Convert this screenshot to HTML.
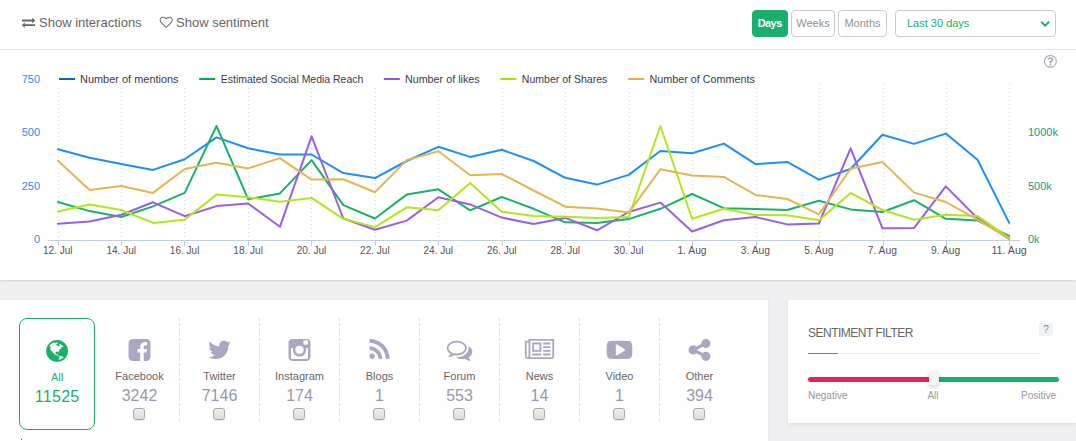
<!DOCTYPE html>
<html lang="en"><head><meta charset="utf-8"><title>Dashboard</title>
<style>
html,body{margin:0;padding:0}
body{width:1076px;height:441px;overflow:hidden;background:#f0f0f3;font-family:"Liberation Sans",Arial,sans-serif;position:relative;color:#666}
.top{position:absolute;left:0;top:0;width:1076px;height:280px;background:#fefefe;box-shadow:0 1px 2px rgba(0,0,0,.12)}
.bar{position:absolute;left:0;top:0;width:1076px;height:49px;border-bottom:1px solid #e6e6e6}
.tbi{position:absolute;left:0;top:0}
.tl{position:absolute;top:15px;font-size:13px;line-height:16px;color:#666;white-space:nowrap}
.btn{position:absolute;top:10px;height:27px;box-sizing:border-box;border:1px solid #ccc;border-radius:4px;background:#fff;color:#929292;font-size:11px;line-height:25px;text-align:center}
.btn.on{background:#1aaf6b;border-color:#1aaf6b;color:#fff;font-weight:bold;letter-spacing:-.6px;text-indent:-.6px}
.sel{position:absolute;left:895px;top:10px;width:161px;height:27px;box-sizing:border-box;border:1px solid #ccc;border-radius:4px;background:#fff;color:#1aaf6b;font-size:11px;line-height:25px;padding-left:11px}
.chart{position:absolute;left:0;top:50px}
.chart text{font-family:"Liberation Sans",Arial,sans-serif;font-size:11px}
.xl text{fill:#555;font-size:11.5px}
.yl text{fill:#2b8fe6}
.yr text{fill:#16a085}
.lg text{fill:#3c3c48}
.help{position:absolute;left:1044px;top:55px}
.left{position:absolute;left:0;top:300px;width:768px;height:141px;background:#fefefe;box-shadow:0 0 3px rgba(0,0,0,.07)}
.icons{position:absolute;left:0;top:0}
.all{position:absolute;left:19px;top:18px;width:76px;height:112px;box-sizing:border-box;border:1px solid #1aaf6b;border-radius:8px;text-align:center;color:#1aaf6b}
.src{position:absolute;top:18px;width:80px;text-align:center}
.lab{position:absolute;left:0;width:100%;top:50px;font-size:11px;line-height:16px;color:#666}
.cnt{position:absolute;left:0;width:100%;top:67px;font-size:16px;line-height:22px;color:#9a98a8}
.all .lab{top:50px;color:#1aaf6b}
.all .cnt{top:67px;color:#1aaf6b;letter-spacing:.3px;text-indent:.3px}
.cb{position:absolute;left:33.5px;top:90px;width:12px;height:12px;box-sizing:border-box;border:1px solid #a6a6a6;border-radius:3px;background:linear-gradient(#ededed,#dedede);box-shadow:0 1px 1px rgba(0,0,0,.08)}
.dot{position:absolute;left:21px;top:139px;width:1px;height:1px;background:#557}
.sep{position:absolute;top:18px;height:103px;width:0;border-left:1px dashed #dcdcdc}
.sent{position:absolute;left:788px;top:300px;width:288px;height:123px;background:#fefefe;box-shadow:0 1px 3px rgba(0,0,0,.09)}
.sent h3{position:absolute;left:20px;top:24px;margin:0;font-size:12px;letter-spacing:-.5px;line-height:18px;font-weight:normal;color:#666;white-space:nowrap}
.q{position:absolute;left:251px;top:23px;width:14px;height:13px;background:#f2f2f5;border-radius:2px;font-size:10px;line-height:14px;text-align:center;color:#8c8c8c}
.ul{position:absolute;left:20px;top:53px;width:231px;height:1px;background:#ececec}
.ul i{position:absolute;left:0;top:0;width:30px;height:1px;background:#1aaf6b;display:block}
.neg{position:absolute;left:20px;top:77px;width:125px;height:5px;border-radius:3px;background:#e02852}
.pos{position:absolute;left:148px;top:77px;width:123px;height:5px;border-radius:3px;background:#1aaf6b}
.hd{position:absolute;left:141px;top:72px;width:10px;height:14px;border-radius:5px;background:#f5f5f5;box-shadow:0 1px 4px rgba(0,0,0,.25)}
.sl{position:absolute;top:90px;font-size:10px;line-height:12px;color:#999}
</style></head><body>
<div class="top">
<div class="bar">
<svg class="tbi" width="300" height="49" viewBox="0 0 300 49"><g transform="translate(22.00 27.00) scale(0.00725 -0.00725)" fill="#666" fill-rule="evenodd"><path d="M1792 352v-192q0 -13 -9.5 -22.5t-22.5 -9.5h-1376v-192q0 -13 -9.5 -22.5t-22.5 -9.5q-12 0 -24 10l-319 320q-9 9 -9 22q0 14 9 23l320 320q9 9 23 9q13 0 22.5 -9.5t9.5 -22.5v-192h1376q13 0 22.5 -9.5t9.5 -22.5zM1792 896q0 -14 -9 -23l-320 -320q-9 -9 -23 -9 q-13 0 -22.5 9.5t-9.5 22.5v192h-1376q-13 0 -22.5 9.5t-9.5 22.5v192q0 13 9.5 22.5t22.5 9.5h1376v192q0 14 9 23t23 9q12 0 24 -10l319 -319q9 -9 9 -23z"/></g><g transform="translate(159.70 27.00) scale(0.00725 -0.00725)" fill="#666" fill-rule="evenodd"><path d="M1664 940q0 81 -21.5 143t-55 98.5t-81.5 59.5t-94 31t-98 8t-112 -25.5t-110.5 -64t-86.5 -72t-60 -61.5q-18 -22 -49 -22t-49 22q-24 28 -60 61.5t-86.5 72t-110.5 64t-112 25.5t-98 -8t-94 -31t-81.5 -59.5t-55 -98.5t-21.5 -143q0 -168 187 -355l581 -560l580 559 q188 188 188 356zM1792 940q0 -221 -229 -450l-623 -600q-18 -18 -44 -18t-44 18l-624 602q-10 8 -27.5 26t-55.5 65.5t-68 97.5t-53.5 121t-23.5 138q0 220 127 344t351 124q62 0 126.5 -21.5t120 -58t95.5 -68.5t76 -68q36 36 76 68t95.5 68.5t120 58t126.5 21.5 q224 0 351 -124t127 -344z"/></g></svg>
<div class="tl" style="left:39px">Show interactions</div>
<div class="tl" style="left:176px">Show sentiment</div>
<div class="btn on" style="left:752px;width:36px">Days</div>
<div class="btn" style="left:791px;width:44px">Weeks</div>
<div class="btn" style="left:838px;width:49px">Months</div>
<div class="sel">Last 30 days</div>
</div>
<svg class="chart" width="1076" height="230" viewBox="0 0 1076 230">
<g stroke="#d8d8d8" stroke-width="1" stroke-dasharray="1,3" fill="none"><path d="M58.5 38 V190"/><path d="M121.5 38 V190"/><path d="M184.5 38 V190"/><path d="M248.5 38 V190"/><path d="M311.5 38 V190"/><path d="M375.5 38 V190"/><path d="M438.5 38 V190"/><path d="M502.5 38 V190"/><path d="M565.5 38 V190"/><path d="M629.5 38 V190"/><path d="M692.5 38 V190"/><path d="M756.5 38 V190"/><path d="M819.5 34 V190"/><path d="M883.5 34 V190"/><path d="M946.5 34 V190"/><path d="M1009.5 34 V190"/></g>
<path d="M48 190.5 H1020" stroke="#c0d0e0" stroke-width="1" fill="none"/>
<path d="M58.5 191 v5M121.5 191 v5M184.5 191 v5M248.5 191 v5M311.5 191 v5M375.5 191 v5M438.5 191 v5M502.5 191 v5M565.5 191 v5M629.5 191 v5M692.5 191 v5M756.5 191 v5M819.5 191 v5M883.5 191 v5M946.5 191 v5M1009.5 191 v5" stroke="#c0d0e0" stroke-width="1" fill="none"/>
<path d="M57.9 99.2 L89.6 107.8 L121.3 114.0 L153.0 119.9 L184.7 109.2 L216.5 87.4 L248.2 98.3 L279.9 104.5 L311.6 104.5 L343.3 123.1 L375.0 128.1 L406.7 111.0 L438.4 96.8 L470.1 106.9 L501.8 99.8 L533.6 111.0 L565.3 127.8 L597.0 134.6 L628.7 124.9 L660.4 101.0 L692.1 103.3 L723.8 93.6 L755.5 114.2 L787.2 111.9 L818.9 129.6 L850.6 119.0 L882.4 84.8 L914.1 93.9 L945.8 83.6 L977.5 109.8 L1009.2 172.9" fill="none" stroke="#1e90f2" stroke-width="2" stroke-linejoin="round" stroke-linecap="round"/>
<path d="M57.9 152.0 L89.6 161.1 L121.3 167.0 L153.0 156.4 L184.7 142.9 L216.5 76.0 L248.2 149.3 L279.9 143.4 L311.6 110.1 L343.3 155.2 L375.0 168.5 L406.7 144.6 L438.4 139.3 L470.1 160.3 L501.8 147.0 L533.6 158.8 L565.3 172.3 L597.0 172.9 L628.7 169.1 L660.4 158.8 L692.1 144.0 L723.8 158.2 L755.5 159.1 L787.2 160.0 L818.9 150.8 L850.6 159.4 L882.4 162.0 L914.1 150.2 L945.8 168.8 L977.5 170.6 L1009.2 185.9" fill="none" stroke="#1ab26b" stroke-width="2" stroke-linejoin="round" stroke-linecap="round"/>
<path d="M57.9 173.8 L89.6 171.5 L121.3 164.7 L153.0 152.3 L184.7 166.2 L216.5 156.1 L248.2 153.5 L279.9 176.8 L311.6 86.3 L343.3 168.5 L375.0 179.7 L406.7 170.6 L438.4 147.3 L470.1 154.4 L501.8 167.6 L533.6 174.1 L565.3 167.9 L597.0 180.3 L628.7 162.0 L660.4 152.6 L692.1 181.5 L723.8 170.3 L755.5 167.0 L787.2 174.4 L818.9 173.5 L850.6 98.3 L882.4 178.2 L914.1 177.9 L945.8 136.4 L977.5 168.2 L1009.2 188.9" fill="none" stroke="#9b5fe3" stroke-width="2" stroke-linejoin="round" stroke-linecap="round"/>
<path d="M57.9 161.4 L89.6 154.4 L121.3 160.0 L153.0 172.9 L184.7 169.7 L216.5 144.6 L248.2 147.3 L279.9 151.7 L311.6 147.9 L343.3 168.8 L375.0 177.1 L406.7 157.3 L438.4 160.3 L470.1 133.1 L501.8 161.7 L533.6 166.1 L565.3 166.7 L597.0 167.9 L628.7 167.0 L660.4 76.0 L692.1 168.8 L723.8 158.8 L755.5 165.0 L787.2 165.3 L818.9 170.3 L850.6 142.9 L882.4 160.0 L914.1 169.7 L945.8 164.7 L977.5 165.9 L1009.2 188.0" fill="none" stroke="#b3e61c" stroke-width="2" stroke-linejoin="round" stroke-linecap="round"/>
<path d="M57.9 110.7 L89.6 139.9 L121.3 136.1 L153.0 142.9 L184.7 119.0 L216.5 112.8 L248.2 118.4 L279.9 108.1 L311.6 129.6 L343.3 129.3 L375.0 142.3 L406.7 110.1 L438.4 101.3 L470.1 125.2 L501.8 124.0 L533.6 140.5 L565.3 156.7 L597.0 158.5 L628.7 162.6 L660.4 119.3 L692.1 125.5 L723.8 126.9 L755.5 144.9 L787.2 149.0 L818.9 164.4 L850.6 118.7 L882.4 111.9 L914.1 142.6 L945.8 152.0 L977.5 169.7 L1009.2 188.9" fill="none" stroke="#e0b753" stroke-width="2" stroke-linejoin="round" stroke-linecap="round"/>
<g class="xl" text-anchor="middle"><text x="57.8" y="204.2" textLength="29.6" lengthAdjust="spacingAndGlyphs">12. Jul</text><text x="121.2" y="204.2" textLength="29.6" lengthAdjust="spacingAndGlyphs">14. Jul</text><text x="184.6" y="204.2" textLength="29.6" lengthAdjust="spacingAndGlyphs">16. Jul</text><text x="248.1" y="204.2" textLength="29.6" lengthAdjust="spacingAndGlyphs">18. Jul</text><text x="311.5" y="204.2" textLength="29.6" lengthAdjust="spacingAndGlyphs">20. Jul</text><text x="374.9" y="204.2" textLength="29.6" lengthAdjust="spacingAndGlyphs">22. Jul</text><text x="438.3" y="204.2" textLength="29.6" lengthAdjust="spacingAndGlyphs">24. Jul</text><text x="501.7" y="204.2" textLength="29.6" lengthAdjust="spacingAndGlyphs">26. Jul</text><text x="565.2" y="204.2" textLength="29.6" lengthAdjust="spacingAndGlyphs">28. Jul</text><text x="628.6" y="204.2" textLength="29.6" lengthAdjust="spacingAndGlyphs">30. Jul</text><text x="692.0" y="204.2" textLength="29.2" lengthAdjust="spacingAndGlyphs">1. Aug</text><text x="755.4" y="204.2" textLength="29.2" lengthAdjust="spacingAndGlyphs">3. Aug</text><text x="818.8" y="204.2" textLength="29.2" lengthAdjust="spacingAndGlyphs">5. Aug</text><text x="882.3" y="204.2" textLength="29.2" lengthAdjust="spacingAndGlyphs">7. Aug</text><text x="945.7" y="204.2" textLength="29.2" lengthAdjust="spacingAndGlyphs">9. Aug</text><text x="1009.1" y="204.2" textLength="35.4" lengthAdjust="spacingAndGlyphs">11. Aug</text></g>
<g class="yl" text-anchor="end"><text x="40" y="32.8">750</text><text x="40" y="86.1">500</text><text x="40" y="139.5">250</text><text x="40" y="192.8">0</text></g>
<g class="yr"><text x="1028" y="86.2">1000k</text><text x="1028" y="140.0">500k</text><text x="1028" y="193.2">0k</text></g>
<g class="lg"><path d="M59.0 29 h16" stroke="#0569c9" stroke-width="2" fill="none"/><text x="80.0" y="32.8" textLength="98.6" lengthAdjust="spacingAndGlyphs">Number of mentions</text><path d="M199.2 29 h16" stroke="#00aa5a" stroke-width="2" fill="none"/><text x="220.8" y="32.8" textLength="142.5" lengthAdjust="spacingAndGlyphs">Estimated Social Media Reach</text><path d="M383.8 29 h16" stroke="#8c55dc" stroke-width="2" fill="none"/><text x="404.9" y="32.8" textLength="74.8" lengthAdjust="spacingAndGlyphs">Number of likes</text><path d="M500.3 29 h16" stroke="#a8e000" stroke-width="2" fill="none"/><text x="521.8" y="32.8" textLength="85.5" lengthAdjust="spacingAndGlyphs">Number of Shares</text><path d="M628.2 29 h16" stroke="#dcb43c" stroke-width="2" fill="none"/><text x="649.6" y="32.8" textLength="105.2" lengthAdjust="spacingAndGlyphs">Number of Comments</text></g>
</svg>
<svg class="tbi" style="left:1030px" width="46" height="75" viewBox="1030 0 46 75"><g transform="translate(1040.15 26.70) scale(0.00558 -0.00558)" fill="#1aaf6b" fill-rule="evenodd"><path d="M1683 728l-742 -741q-19 -19 -45 -19t-45 19l-742 741q-19 19 -19 45.5t19 45.5l166 165q19 19 45 19t45 -19l531 -531l531 531q19 19 45 19t45 -19l166 -165q19 -19 19 -45.5t-19 -45.5z"/></g><g transform="translate(1043.97 66.70) scale(0.00837 -0.00837)" fill="#a3a9bb" fill-rule="evenodd"><path d="M880 336v-160q0 -14 -9 -23t-23 -9h-160q-14 0 -23 9t-9 23v160q0 14 9 23t23 9h160q14 0 23 -9t9 -23zM1136 832q0 -50 -15 -90t-45.5 -69t-52 -44t-59.5 -36q-32 -18 -46.5 -28t-26 -24t-11.5 -29v-32q0 -14 -9 -23t-23 -9h-160q-14 0 -23 9t-9 23v68q0 35 10.5 64.5 t24 47.5t39 35.5t41 25.5t44.5 21q53 25 75 43t22 49q0 42 -43.5 71.5t-95.5 29.5q-56 0 -95 -27q-29 -20 -80 -83q-9 -12 -25 -12q-11 0 -19 6l-108 82q-10 7 -12 20t5 23q122 192 349 192q129 0 238.5 -89.5t109.5 -214.5zM768 1280q-130 0 -248.5 -51t-204 -136.5 t-136.5 -204t-51 -248.5t51 -248.5t136.5 -204t204 -136.5t248.5 -51t248.5 51t204 136.5t136.5 204t51 248.5t-51 248.5t-136.5 204t-204 136.5t-248.5 51zM1536 640q0 -209 -103 -385.5t-279.5 -279.5t-385.5 -103t-385.5 103t-279.5 279.5t-103 385.5t103 385.5 t279.5 279.5t385.5 103t385.5 -103t279.5 -279.5t103 -385.5z"/></g></svg>
</div>
<div class="left">
<svg class="icons" width="768" height="141" viewBox="0 300 768 141">
<g transform="translate(46.13 360.10) scale(0.01429 -0.01429)" fill="#1aaf6b" fill-rule="evenodd"><path d="M768 1408q209 0 385.5 -103t279.5 -279.5t103 -385.5t-103 -385.5t-279.5 -279.5t-385.5 -103t-385.5 103t-279.5 279.5t-103 385.5t103 385.5t279.5 279.5t385.5 103zM1042 887q-2 -1 -9.5 -9.5t-13.5 -9.5q2 0 4.5 5t5 11t3.5 7q6 7 22 15q14 6 52 12q34 8 51 -11 q-2 2 9.5 13t14.5 12q3 2 15 4.5t15 7.5l2 22q-12 -1 -17.5 7t-6.5 21q0 -2 -6 -8q0 7 -4.5 8t-11.5 -1t-9 -1q-10 3 -15 7.5t-8 16.5t-4 15q-2 5 -9.5 11t-9.5 10q-1 2 -2.5 5.5t-3 6.5t-4 5.5t-5.5 2.5t-7 -5t-7.5 -10t-4.5 -5q-3 2 -6 1.5t-4.5 -1t-4.5 -3t-5 -3.5 q-3 -2 -8.5 -3t-8.5 -2q15 5 -1 11q-10 4 -16 3q9 4 7.5 12t-8.5 14h5q-1 4 -8.5 8.5t-17.5 8.5t-13 6q-8 5 -34 9.5t-33 0.5q-5 -6 -4.5 -10.5t4 -14t3.5 -12.5q1 -6 -5.5 -13t-6.5 -12q0 -7 14 -15.5t10 -21.5q-3 -8 -16 -16t-16 -12q-5 -8 -1.5 -18.5t10.5 -16.5 q2 -2 1.5 -4t-3.5 -4.5t-5.5 -4t-6.5 -3.5l-3 -2q-11 -5 -20.5 6t-13.5 26q-7 25 -16 30q-23 8 -29 -1q-5 13 -41 26q-25 9 -58 4q6 1 0 15q-7 15 -19 12q3 6 4 17.5t1 13.5q3 13 12 23q1 1 7 8.5t9.5 13.5t0.5 6q35 -4 50 11q5 5 11.5 17t10.5 17q9 6 14 5.5t14.5 -5.5 t14.5 -5q14 -1 15.5 11t-7.5 20q12 -1 3 17q-4 7 -8 9q-12 4 -27 -5q-8 -4 2 -8q-1 1 -9.5 -10.5t-16.5 -17.5t-16 5q-1 1 -5.5 13.5t-9.5 13.5q-8 0 -16 -15q3 8 -11 15t-24 8q19 12 -8 27q-7 4 -20.5 5t-19.5 -4q-5 -7 -5.5 -11.5t5 -8t10.5 -5.5t11.5 -4t8.5 -3 q14 -10 8 -14q-2 -1 -8.5 -3.5t-11.5 -4.5t-6 -4q-3 -4 0 -14t-2 -14q-5 5 -9 17.5t-7 16.5q7 -9 -25 -6l-10 1q-4 0 -16 -2t-20.5 -1t-13.5 8q-4 8 0 20q1 4 4 2q-4 3 -11 9.5t-10 8.5q-46 -15 -94 -41q6 -1 12 1q5 2 13 6.5t10 5.5q34 14 42 7l5 5q14 -16 20 -25 q-7 4 -30 1q-20 -6 -22 -12q7 -12 5 -18q-4 3 -11.5 10t-14.5 11t-15 5q-16 0 -22 -1q-146 -80 -235 -222q7 -7 12 -8q4 -1 5 -9t2.5 -11t11.5 3q9 -8 3 -19q1 1 44 -27q19 -17 21 -21q3 -11 -10 -18q-1 2 -9 9t-9 4q-3 -5 0.5 -18.5t10.5 -12.5q-7 0 -9.5 -16t-2.5 -35.5 t-1 -23.5l2 -1q-3 -12 5.5 -34.5t21.5 -19.5q-13 -3 20 -43q6 -8 8 -9q3 -2 12 -7.5t15 -10t10 -10.5q4 -5 10 -22.5t14 -23.5q-2 -6 9.5 -20t10.5 -23q-1 0 -2.5 -1t-2.5 -1q3 -7 15.5 -14t15.5 -13q1 -3 2 -10t3 -11t8 -2q2 20 -24 62q-15 25 -17 29q-3 5 -5.5 15.5 t-4.5 14.5q2 0 6 -1.5t8.5 -3.5t7.5 -4t2 -3q-3 -7 2 -17.5t12 -18.5t17 -19t12 -13q6 -6 14 -19.5t0 -13.5q9 0 20 -10.5t17 -19.5q5 -8 8 -26t5 -24q2 -7 8.5 -13.5t12.5 -9.5l16 -8t13 -7q5 -2 18.5 -10.5t21.5 -11.5q10 -4 16 -4t14.5 2.5t13.5 3.5q15 2 29 -15t21 -21 q36 -19 55 -11q-2 -1 0.5 -7.5t8 -15.5t9 -14.5t5.5 -8.5q5 -6 18 -15t18 -15q6 4 7 9q-3 -8 7 -20t18 -10q14 3 14 32q-31 -15 -49 18q0 1 -2.5 5.5t-4 8.5t-2.5 8.5t0 7.5t5 3q9 0 10 3.5t-2 12.5t-4 13q-1 8 -11 20t-12 15q-5 -9 -16 -8t-16 9q0 -1 -1.5 -5.5t-1.5 -6.5 q-13 0 -15 1q1 3 2.5 17.5t3.5 22.5q1 4 5.5 12t7.5 14.5t4 12.5t-4.5 9.5t-17.5 2.5q-19 -1 -26 -20q-1 -3 -3 -10.5t-5 -11.5t-9 -7q-7 -3 -24 -2t-24 5q-13 8 -22.5 29t-9.5 37q0 10 2.5 26.5t3 25t-5.5 24.5q3 2 9 9.5t10 10.5q2 1 4.5 1.5t4.5 0t4 1.5t3 6q-1 1 -4 3 q-3 3 -4 3q7 -3 28.5 1.5t27.5 -1.5q15 -11 22 2q0 1 -2.5 9.5t-0.5 13.5q5 -27 29 -9q3 -3 15.5 -5t17.5 -5q3 -2 7 -5.5t5.5 -4.5t5 0.5t8.5 6.5q10 -14 12 -24q11 -40 19 -44q7 -3 11 -2t4.5 9.5t0 14t-1.5 12.5l-1 8v18l-1 8q-15 3 -18.5 12t1.5 18.5t15 18.5q1 1 8 3.5 t15.5 6.5t12.5 8q21 19 15 35q7 0 11 9q-1 0 -5 3t-7.5 5t-4.5 2q9 5 2 16q5 3 7.5 11t7.5 10q9 -12 21 -2q8 8 1 16q5 7 20.5 10.5t18.5 9.5q7 -2 8 2t1 12t3 12q4 5 15 9t13 5l17 11q3 4 0 4q18 -2 31 11q10 11 -6 20q3 6 -3 9.5t-15 5.5q3 1 11.5 0.5t10.5 1.5 q15 10 -7 16q-17 5 -43 -12zM879 10q206 36 351 189q-3 3 -12.5 4.5t-12.5 3.5q-18 7 -24 8q1 7 -2.5 13t-8 9t-12.5 8t-11 7q-2 2 -7 6t-7 5.5t-7.5 4.5t-8.5 2t-10 -1l-3 -1q-3 -1 -5.5 -2.5t-5.5 -3t-4 -3t0 -2.5q-21 17 -36 22q-5 1 -11 5.5t-10.5 7t-10 1.5t-11.5 -7 q-5 -5 -6 -15t-2 -13q-7 5 0 17.5t2 18.5q-3 6 -10.5 4.5t-12 -4.5t-11.5 -8.5t-9 -6.5t-8.5 -5.5t-8.5 -7.5q-3 -4 -6 -12t-5 -11q-2 4 -11.5 6.5t-9.5 5.5q2 -10 4 -35t5 -38q7 -31 -12 -48q-27 -25 -29 -40q-4 -22 12 -26q0 -7 -8 -20.5t-7 -21.5q0 -6 2 -16z"/></g>
<g transform="translate(128.53 359.05) scale(0.01429 -0.01429)" fill="#aaa7c1" fill-rule="evenodd"><path d="M1248 1408q119 0 203.5 -84.5t84.5 -203.5v-960q0 -119 -84.5 -203.5t-203.5 -84.5h-188v595h199l30 232h-229v148q0 56 23.5 84t91.5 28l122 1v207q-63 9 -178 9q-136 0 -217.5 -80t-81.5 -226v-171h-200v-232h200v-595h-532q-119 0 -203.5 84.5t-84.5 203.5v960 q0 119 84.5 203.5t203.5 84.5h960z"/></g>
<g transform="translate(207.61 359.05) scale(0.01429 -0.01429)" fill="#aaa7c1" fill-rule="evenodd"><path d="M1620 1128q-67 -98 -162 -167q1 -14 1 -42q0 -130 -38 -259.5t-115.5 -248.5t-184.5 -210.5t-258 -146t-323 -54.5q-271 0 -496 145q35 -4 78 -4q225 0 401 138q-105 2 -188 64.5t-114 159.5q33 -5 61 -5q43 0 85 11q-112 23 -185.5 111.5t-73.5 205.5v4q68 -38 146 -41 q-66 44 -105 115t-39 154q0 88 44 163q121 -149 294.5 -238.5t371.5 -99.5q-8 38 -8 74q0 134 94.5 228.5t228.5 94.5q140 0 236 -102q109 21 205 78q-37 -115 -142 -178q93 10 186 50z"/></g>
<g transform="translate(288.53 359.05) scale(0.01429 -0.01429)" fill="#aaa7c1" fill-rule="evenodd"><path d="M1280 1408H256Q150 1408 75 1333T0 1152V128Q0 22 75-53T256-128H1280Q1386-128 1461-53T1536 128V1152Q1536 1258 1461 1333T1280 1408ZM1362 80Q1362 52 1342 32T1294 12H242Q214 12 194 32T174 80V758H330Q308 688 308 620Q308 436 443 306T768 176T1093 306T1228 620Q1228 688 1206 758H1362V80ZM768 937Q891 937 978 853T1065 650T978 447T768 363T558 447T471 650T558 853T768 937ZM1362 1083Q1362 1051 1340 1029T1286 1007H1114Q1082 1007 1060 1029T1038 1083V1246Q1038 1277 1060 1299T1114 1322H1286Q1318 1322 1340 1299T1362 1246V1083Z"/></g>
<g transform="translate(369.44 359.05) scale(0.01429 -0.01429)" fill="#aaa7c1" fill-rule="evenodd"><path d="M384 192q0 -80 -56 -136t-136 -56t-136 56t-56 136t56 136t136 56t136 -56t56 -136zM896 69q2 -28 -17 -48q-18 -21 -47 -21h-135q-25 0 -43 16.5t-20 41.5q-22 229 -184.5 391.5t-391.5 184.5q-25 2 -41.5 20t-16.5 43v135q0 29 21 47q17 17 43 17h5q160 -13 306 -80.5 t259 -181.5q114 -113 181.5 -259t80.5 -306zM1408 67q2 -27 -18 -47q-18 -20 -46 -20h-143q-26 0 -44.5 17.5t-19.5 42.5q-12 215 -101 408.5t-231.5 336t-336 231.5t-408.5 102q-25 1 -42.5 19.5t-17.5 43.5v143q0 28 20 46q18 18 44 18h3q262 -13 501.5 -120t425.5 -294 q187 -186 294 -425.5t120 -501.5z"/></g>
<g transform="translate(446.70 359.05) scale(0.01429 -0.01429)" fill="#aaa7c1" fill-rule="evenodd"><path d="M704 1152q-153 0 -286 -52t-211.5 -141t-78.5 -191q0 -82 53 -158t149 -132l97 -56l-35 -84q34 20 62 39l44 31l53 -10q78 -14 153 -14q153 0 286 52t211.5 141t78.5 191t-78.5 191t-211.5 141t-286 52zM704 1280q191 0 353.5 -68.5t256.5 -186.5t94 -257t-94 -257 t-256.5 -186.5t-353.5 -68.5q-86 0 -176 16q-124 -88 -278 -128q-36 -9 -86 -16h-3q-11 0 -20.5 8t-11.5 21q-1 3 -1 6.5t0.5 6.5t2 6l2.5 5t3.5 5.5t4 5t4.5 5t4 4.5q5 6 23 25t26 29.5t22.5 29t25 38.5t20.5 44q-124 72 -195 177t-71 224q0 139 94 257t256.5 186.5 t353.5 68.5zM1526 111q10 -24 20.5 -44t25 -38.5t22.5 -29t26 -29.5t23 -25q1 -1 4 -4.5t4.5 -5t4 -5t3.5 -5.5l2.5 -5t2 -6t0.5 -6.5t-1 -6.5q-3 -14 -13 -22t-22 -7q-50 7 -86 16q-154 40 -278 128q-90 -16 -176 -16q-271 0 -472 132q58 -4 88 -4q161 0 309 45t264 129 q125 92 192 212t67 254q0 77 -23 152q129 -71 204 -178t75 -230q0 -120 -71 -224.5t-195 -176.5z"/></g>
<g transform="translate(524.87 359.05) scale(0.01429 -0.01429)" fill="#aaa7c1" fill-rule="evenodd"><path d="M1024 1024h-384v-384h384v384zM1152 384v-128h-640v128h640zM1152 1152v-640h-640v640h640zM1792 384v-128h-512v128h512zM1792 640v-128h-512v128h512zM1792 896v-128h-512v128h512zM1792 1152v-128h-512v128h512zM256 192v960h-128v-960q0 -26 19 -45t45 -19t45 19 t19 45zM1920 192v1088h-1536v-1088q0 -33 -11 -64h1483q26 0 45 19t19 45zM2048 1408v-1216q0 -80 -56 -136t-136 -56h-1664q-80 0 -136 56t-56 136v1088h256v128h1792z"/></g>
<g transform="translate(606.70 359.05) scale(0.01429 -0.01429)" fill="#aaa7c1" fill-rule="evenodd"><path d="M1280 640q0 37 -30 54l-512 320q-31 20 -65 2q-33 -18 -33 -56v-640q0 -38 33 -56q16 -8 31 -8q20 0 34 10l512 320q30 17 30 54zM1792 640q0 96 -1 150t-8.5 136.5t-22.5 147.5q-16 73 -69 123t-124 58q-222 25 -671 25t-671 -25q-71 -8 -124.5 -58t-69.5 -123q-14 -65 -21.5 -147.5t-8.5 -136.5t-1 -150t1 -150t8.5 -136.5t22.5 -147.5q16 -73 69 -123t124 -58q222 -25 671 -25t671 25q71 8 124.5 58t69.5 123q14 65 21.5 147.5t8.5 136.5t1 150z"/></g>
<g transform="translate(688.53 359.05) scale(0.01429 -0.01429)" fill="#aaa7c1" fill-rule="evenodd"><path d="M1216 512q133 0 226.5 -93.5t93.5 -226.5t-93.5 -226.5t-226.5 -93.5t-226.5 93.5t-93.5 226.5q0 12 2 34l-360 180q-92 -86 -218 -86q-133 0 -226.5 93.5t-93.5 226.5t93.5 226.5t226.5 93.5q126 0 218 -86l360 180q-2 22 -2 34q0 133 93.5 226.5t226.5 93.5 t226.5 -93.5t93.5 -226.5t-93.5 -226.5t-226.5 -93.5q-126 0 -218 86l-360 -180q2 -22 2 -34t-2 -34l360 -180q92 86 218 86z"/></g>
</svg>
<div class="all"><div class="lab">All</div><div class="cnt">11525</div></div>
<div class="src" style="left:99.5px"><div class="lab">Facebook</div><div class="cnt">3242</div><div class="cb"></div></div>
<div class="src" style="left:179.5px"><div class="lab">Twitter</div><div class="cnt">7146</div><div class="cb"></div></div>
<div class="src" style="left:259.5px"><div class="lab">Instagram</div><div class="cnt">174</div><div class="cb"></div></div>
<div class="src" style="left:339.5px"><div class="lab">Blogs</div><div class="cnt">1</div><div class="cb"></div></div>
<div class="src" style="left:419.5px"><div class="lab">Forum</div><div class="cnt">553</div><div class="cb"></div></div>
<div class="src" style="left:499.5px"><div class="lab">News</div><div class="cnt">14</div><div class="cb"></div></div>
<div class="src" style="left:579.5px"><div class="lab">Video</div><div class="cnt">1</div><div class="cb"></div></div>
<div class="src" style="left:659.5px"><div class="lab">Other</div><div class="cnt">394</div><div class="cb"></div></div>
<div class="sep" style="left:179px"></div><div class="sep" style="left:259px"></div><div class="sep" style="left:339px"></div><div class="sep" style="left:419px"></div><div class="sep" style="left:499px"></div><div class="sep" style="left:579px"></div><div class="sep" style="left:659px"></div><div class="dot"></div>
</div>
<div class="sent">
<h3>SENTIMENT FILTER</h3>
<div class="q">?</div>
<div class="ul"><i></i></div>
<div class="neg"></div><div class="pos"></div><div class="hd"></div>
<div class="sl" style="left:20px">Negative</div>
<div class="sl" style="left:135px;width:20px;text-align:center">All</div>
<div class="sl" style="right:20px">Positive</div>
</div>
</body></html>
